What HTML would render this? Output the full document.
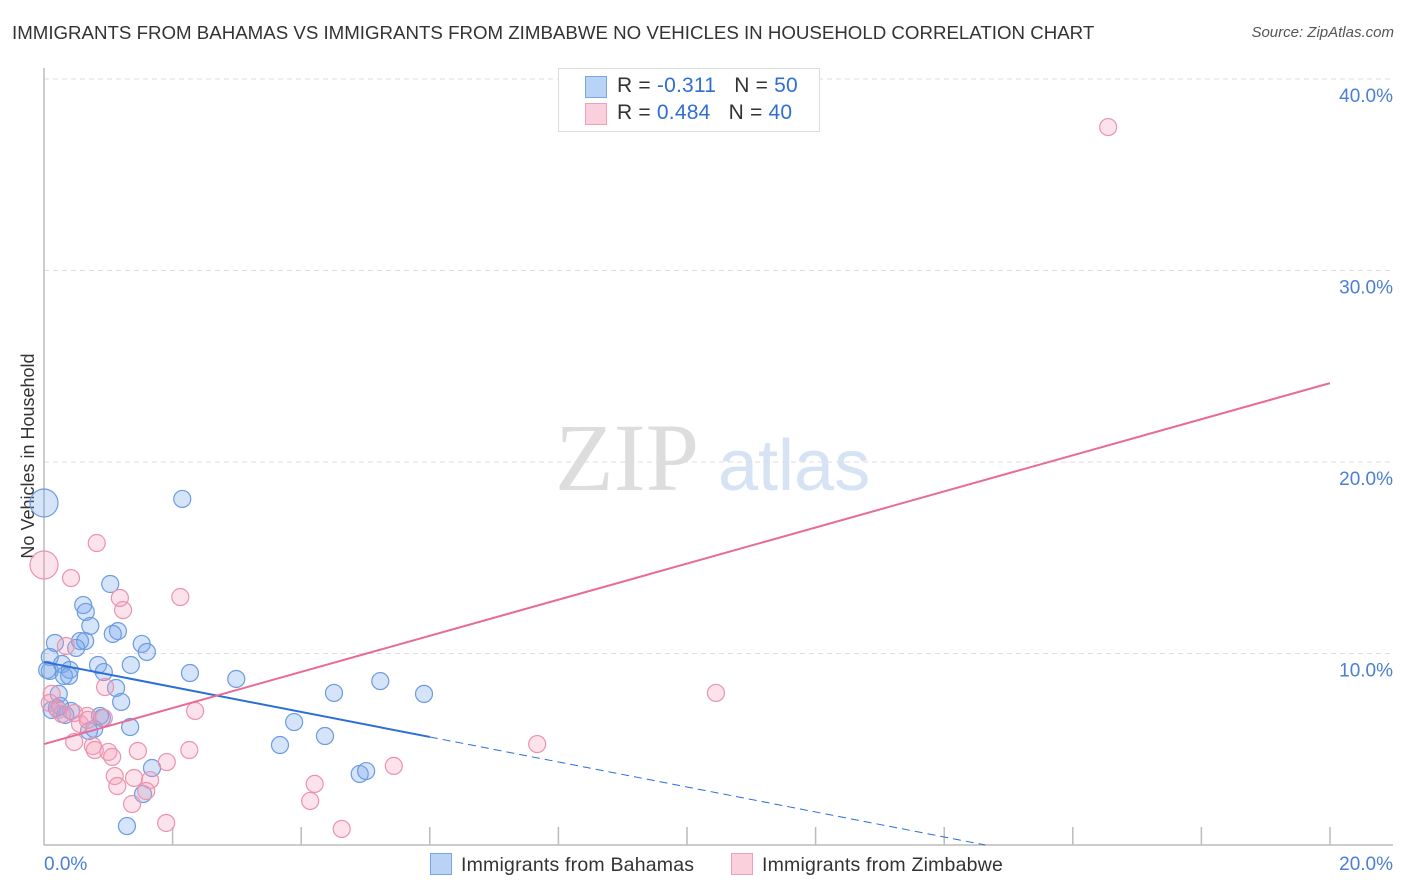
<!DOCTYPE html>
<html><head><meta charset="utf-8"><style>
body{margin:0;background:#fff;font-family:"Liberation Sans",sans-serif;}
#wrap{position:relative;width:1406px;height:892px;overflow:hidden;}
.t{position:absolute;white-space:nowrap;}
</style></head><body>
<div id="wrap">
<div class="t" style="left:12px;top:22px;font-size:18.7px;color:#333;">IMMIGRANTS FROM BAHAMAS VS IMMIGRANTS FROM ZIMBABWE NO VEHICLES IN HOUSEHOLD CORRELATION CHART</div>
<div class="t" style="right:12px;top:24px;font-size:15px;color:#555;font-style:italic;">Source: ZipAtlas.com</div>
<svg id="svg" width="1406" height="892" style="position:absolute;left:0;top:0"></svg>
</div>
<script>
const xTicks=[0,2,4,6,8,10,12,14,16,18,20];
const yTicks=[10,20,30,40];
const yTickLabels=["10.0%","20.0%","30.0%","40.0%"];
const blueX=[0.00,2.15,1.03,0.61,0.65,0.72,1.15,1.07,0.17,0.56,0.64,0.50,1.52,1.60,0.09,0.28,0.40,0.31,0.84,1.35,0.93,2.27,2.99,0.09,0.23,1.12,1.20,4.51,5.23,5.91,0.20,0.33,0.90,1.34,0.78,0.70,3.89,4.37,3.67,1.68,1.54,1.29,4.91,5.01,0.42,0.12,0.25,0.87,0.39,0.05];
const blueY=[17.86,18.07,13.63,12.53,12.17,11.44,11.17,11.02,10.55,10.65,10.65,10.29,10.50,10.08,9.82,9.45,9.14,8.83,9.40,9.40,9.03,8.98,8.67,9.09,7.89,8.20,7.47,7.94,8.56,7.89,7.15,6.79,6.63,6.16,6.06,5.95,6.42,5.69,5.22,4.02,2.66,0.99,3.71,3.86,7.00,7.05,7.26,6.74,8.83,9.14];
const pinkX=[16.55,0,0.82,0.42,2.12,1.23,1.18,0.34,0.95,0.93,0.47,0.12,0.09,0.22,0.28,0.56,0.67,2.35,0.47,0.76,0.79,1.00,1.06,1.46,2.26,1.91,1.10,1.40,1.65,1.14,1.59,1.37,1.90,4.21,4.14,4.63,5.44,7.67,10.45,0.68];
const pinkY=[37.49,14.62,15.77,13.94,12.95,12.27,12.90,10.39,8.25,6.63,6.89,7.89,7.42,7.05,6.84,6.32,6.74,7.00,5.38,5.17,4.96,4.86,4.60,4.91,4.96,4.33,3.60,3.50,3.39,3.08,2.82,2.14,1.15,3.19,2.30,0.84,4.13,5.27,7.94,6.53];
const blueTrend=[9.56,-0.653];
const pinkTrend=[5.27,0.9425];

const sx=v=>44+v*64.3, sy=v=>845-v*19.15;
const svg=document.getElementById('svg');
const NS='http://www.w3.org/2000/svg';
function mk(tag,attrs,parent){const e=document.createElementNS(NS,tag);for(const k in attrs)e.setAttribute(k,attrs[k]);(parent||svg).appendChild(e);return e;}
let w=mk('text',{x:555,y:490,'font-family':'Liberation Serif,serif','font-size':96,fill:'#ddd'});w.textContent='ZIP';


let w2=mk('text',{x:718,y:490,'font-family':'Liberation Sans,sans-serif','font-size':72,fill:'#d5e3f5'});w2.textContent='atlas';


yTicks.forEach((t,i)=>{
 const g=mk('line',{x1:44,x2:1393,y1:sy(t),y2:sy(t),stroke:'#ddd','stroke-dasharray':'5,4'});
 
 
 const l=mk('text',{x:1393,y:sy(t)+23,'text-anchor':'end','font-size':19,fill:'#4a7fd4','font-family':'Liberation Sans,sans-serif'});
 l.textContent=yTickLabels[i];
 
 
});
mk('line',{x1:44,x2:44,y1:68,y2:845,stroke:'#bbb','stroke-width':1.5});
mk('line',{x1:44,x2:1393,y1:845,y2:845,stroke:'#bbb','stroke-width':1.5});
xTicks.forEach(t=>{if(t>0){const k=mk('line',{x1:sx(t),x2:sx(t),y1:827,y2:845,stroke:'#bbb','stroke-width':1.5});
 
 }});
let xl0=mk('text',{x:44,y:870,'font-size':19,fill:'#4a7fd4','font-family':'Liberation Sans,sans-serif'});xl0.textContent='0.0%';


let xl1=mk('text',{x:1393,y:870,'text-anchor':'end','font-size':19,fill:'#4a7fd4','font-family':'Liberation Sans,sans-serif'});xl1.textContent='20.0%';


let yt=mk('text',{x:34,y:456,'text-anchor':'middle','font-size':18,fill:'#333',transform:'rotate(-90 34 456)','font-family':'Liberation Sans,sans-serif'});yt.textContent='No Vehicles in Household';


function pts(X,Y,fill,stroke,name){X.forEach((x,i)=>{const big=(x===0);
 const c=mk('circle',{cx:sx(x),cy:sy(Y[i]),r:big?14:8.5,fill:fill,stroke:stroke,'stroke-width':1.2});
 
 });}
pts(blueX,blueY,'rgba(120,165,235,0.3)','#6b9be0','point-bahamas');
pts(pinkX,pinkY,'rgba(245,160,185,0.3)','#eb93ae','point-zimbabwe');
const bEnd=-blueTrend[0]/blueTrend[1];
let b1=mk('line',{x1:sx(0),y1:sy(blueTrend[0]),x2:sx(6),y2:sy(blueTrend[0]+blueTrend[1]*6),stroke:'#2a6fd6','stroke-width':2});


let b2=mk('line',{x1:sx(6),y1:sy(blueTrend[0]+blueTrend[1]*6),x2:sx(bEnd),y2:sy(0),stroke:'#2a6fd6','stroke-width':1,'stroke-dasharray':'8,5'});


let p1=mk('line',{x1:sx(0),y1:sy(pinkTrend[0]),x2:sx(20),y2:sy(pinkTrend[0]+pinkTrend[1]*20),stroke:'#e86b95','stroke-width':2});


</script>
<div style="position:absolute;left:558px;top:68px;width:260px;height:62px;border:1px solid #ddd;background:#fff;font-size:21px;">
 <div style="position:absolute;left:26px;top:7px;width:20px;height:20px;background:#b8d3f5;border:1px solid #7aa6e3"></div>
 <div class="t" style="left:58px;top:5px;color:#333;letter-spacing:0.2px">R = <span style="color:#2f6fd0">-0.311</span>&nbsp;&nbsp;&nbsp;N = <span style="color:#2f6fd0">50</span></div>
 <div style="position:absolute;left:26px;top:34px;width:20px;height:20px;background:#fbd0dd;border:1px solid #eea0b8"></div>
 <div class="t" style="left:58px;top:32px;color:#333;letter-spacing:0.2px">R = <span style="color:#2f6fd0">0.484</span>&nbsp;&nbsp;&nbsp;N = <span style="color:#2f6fd0">40</span></div>
</div>
<div style="position:absolute;left:430px;top:853px;font-size:19.5px;color:#333;letter-spacing:0.2px">
 <span style="display:inline-block;width:20px;height:20px;background:#b8d3f5;border:1px solid #7aa6e3;vertical-align:-4px;margin-right:9px"></span>Immigrants from Bahamas</div>
<div style="position:absolute;left:731px;top:853px;font-size:19.5px;color:#333;letter-spacing:0.2px">
 <span style="display:inline-block;width:20px;height:20px;background:#fbd0dd;border:1px solid #eea0b8;vertical-align:-4px;margin-right:9px"></span>Immigrants from Zimbabwe</div>
</body></html>
